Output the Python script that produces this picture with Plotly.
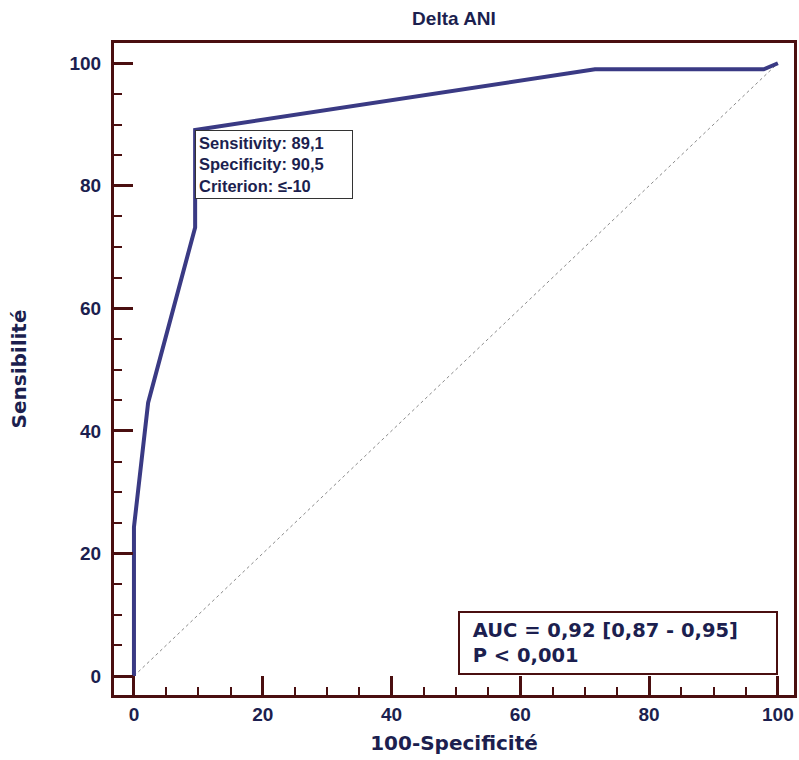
import plotly.graph_objects as go

# ROC curve data
fpr = [0, 0, 2.2, 9.5, 9.5, 71.6, 97.8, 100]
tpr = [0, 24.3, 44.6, 73.2, 89.1, 99.0, 99.0, 100]
diag_x = [0, 100]
diag_y = [0, 100]
x_ticks = [0, 20, 40, 60, 80, 100]
y_ticks = [0, 20, 40, 60, 80, 100]

FRAME = "#4a0f10"
NAVY = "#1c1f4f"
CURVE = "#3a3a84"
FONT = "Liberation Sans, Arial, sans-serif"
WIDE = "DejaVu Sans, Verdana, sans-serif"

fig = go.Figure()
fig.add_trace(go.Scatter(x=diag_x, y=diag_y, mode="lines",
                         line=dict(color="#8a8a8a", width=1, dash="dot"),
                         hoverinfo="skip", showlegend=False))
fig.add_trace(go.Scatter(x=fpr, y=tpr, mode="lines",
                         line=dict(color=CURVE, width=4),
                         showlegend=False))

axis_common = dict(
    showgrid=False, zeroline=False, automargin=False,
    showline=True, linecolor=FRAME, linewidth=3, mirror=True,
    ticks="inside", ticklen=19, tickwidth=3, tickcolor=FRAME,
    minor=dict(ticks="inside", ticklen=8, tickwidth=2, tickcolor=FRAME, dtick=5),
    tickfont=dict(family=FONT, size=19, color=NAVY, weight="bold"),
    dtick=20,
)

fig.update_xaxes(range=[-3.1, 102.5], tickvals=x_ticks, ticklabelstandoff=0,
                 title=dict(text="<b>100-Specificité</b>",
                            font=dict(family=WIDE, size=20, color=NAVY), standoff=13),
                 **axis_common)
fig.update_yaxes(range=[-3.1, 103.3], tickvals=y_ticks, ticklabelstandoff=6,
                 title=dict(text="<b>Sensibilité</b>",
                            font=dict(family=WIDE, size=20, color=NAVY), standoff=38),
                 **axis_common)

fig.add_annotation(x=9.5, y=89.1, xref="x", yref="y", xanchor="left", yanchor="top",
                   text="<b>Sensitivity: 89,1<br>Specificity: 90,5<br>Criterion: \u2264-10</b>",
                   showarrow=False, align="left",
                   font=dict(family=FONT, size=16.5, color=NAVY),
                   bordercolor="#333333", borderwidth=1, borderpad=3,
                   bgcolor="white", width=150)

fig.add_annotation(x=100, y=0.2, xref="x", yref="y", xanchor="right", yanchor="bottom",
                   text="<b>&nbsp;AUC = 0,92 [0,87 - 0,95]<br>&nbsp;P < 0,001</b>",
                   showarrow=False, align="left",
                   font=dict(family=WIDE, size=19.5, color=NAVY),
                   bordercolor=FRAME, borderwidth=2, borderpad=6,
                   bgcolor="white", width=304)

fig.update_layout(
    width=799, height=760,
    margin=dict(l=114, r=5, t=43, b=65),
    paper_bgcolor="white", plot_bgcolor="white",
    title=dict(text="<b>Delta ANI</b>", x=454 / 799, xanchor="center",
               y=1 - 18 / 760, yanchor="middle", yref="container",
               font=dict(family=FONT, size=19, color=NAVY)),
)

fig.write_html("out.html", config={"displayModeBar": False},
               post_script="document.body.style.margin='0';document.body.style.overflow='hidden';")
